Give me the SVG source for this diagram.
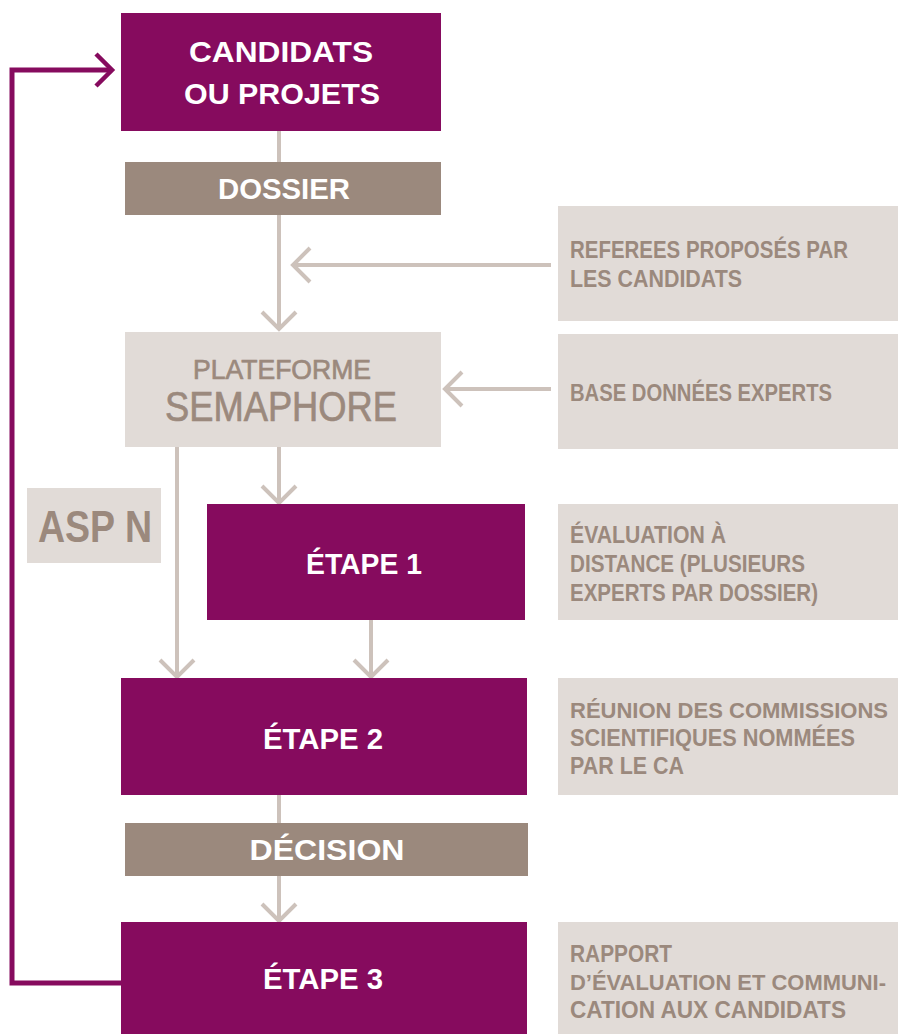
<svg xmlns="http://www.w3.org/2000/svg" width="898" height="1034" viewBox="0 0 898 1034">
<defs>
<style>
.purple{fill:#860b5e}
.brown{fill:#9b897d}
.light{fill:#e1dbd7}
.wt{fill:#ffffff;font-family:"Liberation Sans",Arial,sans-serif;font-weight:bold;text-anchor:middle}
.bt{fill:#9b897d;font-family:"Liberation Sans",Arial,sans-serif;font-weight:bold}
.ct{fill:#9b897d;stroke:#9b897d;stroke-width:0.7;font-family:"Liberation Sans",Arial,sans-serif;text-anchor:middle}
.side{font-size:23px}
.side2{font-size:22px}
.conn{fill:none;stroke:#cdc2bb;stroke-width:4}
.loop{fill:none;stroke:#860b5e;stroke-width:5}
</style>
<marker id="ah" markerUnits="userSpaceOnUse" markerWidth="24" markerHeight="40" viewBox="0 0 24 40" refX="20" refY="20" orient="auto">
<path d="M3,3 L20,20 L3,37" fill="none" stroke="#cdc2bb" stroke-width="4"/>
</marker>
<marker id="ahp" markerUnits="userSpaceOnUse" markerWidth="24" markerHeight="40" viewBox="0 0 24 40" refX="20" refY="20" orient="auto">
<path d="M4,4 L20,20 L4,36" fill="none" stroke="#860b5e" stroke-width="4.5"/>
</marker>
</defs>
<rect width="898" height="1034" fill="#ffffff"/>
<g id="connectors">
<line class="conn" x1="279" y1="131" x2="279" y2="162"/>
<line class="conn" x1="279" y1="215" x2="279" y2="329" marker-end="url(#ah)"/>
<line class="conn" x1="551" y1="265" x2="293" y2="265" marker-end="url(#ah)"/>
<line class="conn" x1="551" y1="389" x2="445" y2="389" marker-end="url(#ah)"/>
<line class="conn" x1="279" y1="447" x2="279" y2="503" marker-end="url(#ah)"/>
<line class="conn" x1="177" y1="447" x2="177" y2="677" marker-end="url(#ah)"/>
<line class="conn" x1="371" y1="620" x2="371" y2="677" marker-end="url(#ah)"/>
<line class="conn" x1="279" y1="795" x2="279" y2="823"/>
<line class="conn" x1="279" y1="876" x2="279" y2="921" marker-end="url(#ah)"/>
<path class="loop" d="M121,983 H12 V70 H112" marker-end="url(#ahp)"/>
</g>
<g id="candidats">
<rect class="purple" x="121" y="13" width="320" height="118"/>
<text class="wt" font-size="30" x="281" y="62" textLength="184" lengthAdjust="spacingAndGlyphs">CANDIDATS</text>
<text class="wt" font-size="30" x="282" y="104" textLength="196" lengthAdjust="spacingAndGlyphs">OU PROJETS</text>
</g>
<g id="dossier">
<rect class="brown" x="125" y="162" width="316" height="53"/>
<text class="wt" font-size="29" x="284" y="199" textLength="132" lengthAdjust="spacingAndGlyphs">DOSSIER</text>
</g>
<g id="referees">
<rect class="light" x="558" y="206" width="340" height="115"/>
<text class="bt side" x="570" y="258" textLength="278" lengthAdjust="spacingAndGlyphs">REFEREES PROPOSÉS PAR</text>
<text class="bt side" x="570" y="287" textLength="172" lengthAdjust="spacingAndGlyphs">LES CANDIDATS</text>
</g>
<g id="plateforme">
<rect class="light" x="125" y="332" width="316" height="115"/>
<text class="ct" font-size="28" x="282" y="379" textLength="178" lengthAdjust="spacingAndGlyphs">PLATEFORME</text>
<text class="ct" font-size="42" x="281" y="421" textLength="232" lengthAdjust="spacingAndGlyphs">SEMAPHORE</text>
</g>
<g id="base">
<rect class="light" x="558" y="334" width="340" height="115"/>
<text class="bt side" x="570" y="401" textLength="262" lengthAdjust="spacingAndGlyphs">BASE DONNÉES EXPERTS</text>
</g>
<g id="aspn">
<rect class="light" x="27" y="488" width="134" height="75"/>
<text class="bt" font-size="44" x="38" y="542" textLength="114" lengthAdjust="spacingAndGlyphs">ASP N</text>
</g>
<g id="etape1">
<rect class="purple" x="207" y="504" width="318" height="116"/>
<text class="wt" font-size="30" x="364" y="574" textLength="116" lengthAdjust="spacingAndGlyphs">ÉTAPE 1</text>
</g>
<g id="evaluation">
<rect class="light" x="558" y="504" width="340" height="116"/>
<text class="bt side" x="570" y="543" textLength="156" lengthAdjust="spacingAndGlyphs">ÉVALUATION À</text>
<text class="bt side" x="570" y="572" textLength="235" lengthAdjust="spacingAndGlyphs">DISTANCE (PLUSIEURS</text>
<text class="bt side" x="570" y="601" textLength="248" lengthAdjust="spacingAndGlyphs">EXPERTS PAR DOSSIER)</text>
</g>
<g id="etape2">
<rect class="purple" x="121" y="678" width="406" height="117"/>
<text class="wt" font-size="30" x="323" y="749" textLength="120" lengthAdjust="spacingAndGlyphs">ÉTAPE 2</text>
</g>
<g id="reunion">
<rect class="light" x="558" y="678" width="340" height="117"/>
<text class="bt side2" x="570" y="718" textLength="318" lengthAdjust="spacingAndGlyphs">RÉUNION DES COMMISSIONS</text>
<text class="bt side" x="570" y="746" textLength="285" lengthAdjust="spacingAndGlyphs">SCIENTIFIQUES NOMMÉES</text>
<text class="bt side" x="570" y="774" textLength="114" lengthAdjust="spacingAndGlyphs">PAR LE CA</text>
</g>
<g id="decision">
<rect class="brown" x="125" y="823" width="403" height="53"/>
<text class="wt" font-size="29" x="327" y="860" textLength="155" lengthAdjust="spacingAndGlyphs">DÉCISION</text>
</g>
<g id="etape3">
<rect class="purple" x="121" y="922" width="406" height="112"/>
<text class="wt" font-size="30" x="323" y="989" textLength="120" lengthAdjust="spacingAndGlyphs">ÉTAPE 3</text>
</g>
<g id="rapport">
<rect class="light" x="558" y="922" width="340" height="112"/>
<text class="bt side" x="570" y="962" textLength="102" lengthAdjust="spacingAndGlyphs">RAPPORT</text>
<text class="bt side2" x="570" y="990" textLength="316" lengthAdjust="spacingAndGlyphs">D’ÉVALUATION ET COMMUNI-</text>
<text class="bt side" x="570" y="1018" textLength="276" lengthAdjust="spacingAndGlyphs">CATION AUX CANDIDATS</text>
</g>
</svg>
